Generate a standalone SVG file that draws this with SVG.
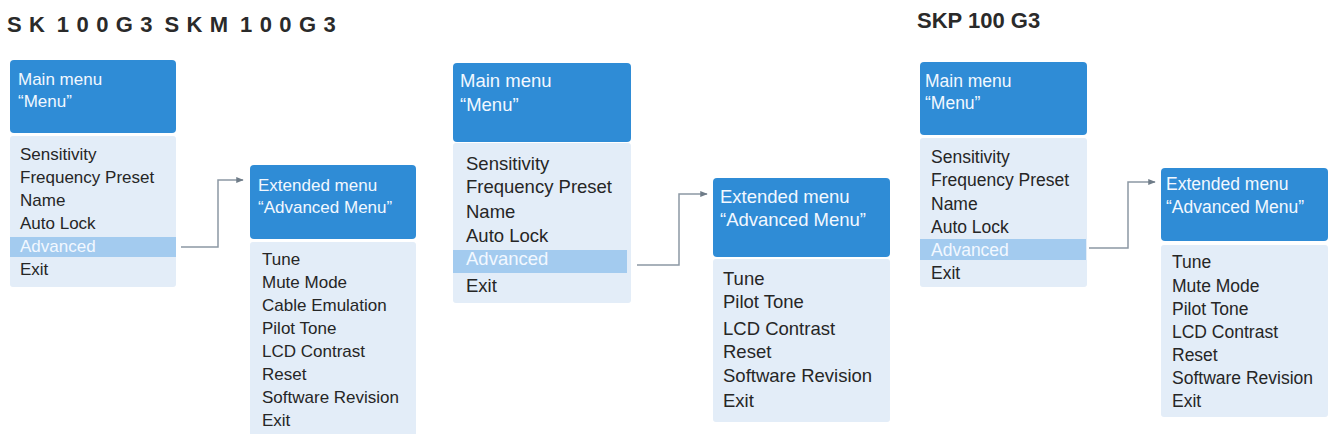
<svg xmlns="http://www.w3.org/2000/svg" width="1337" height="434" viewBox="0 0 1337 434">
<defs>
<style>
.hd{fill:#2f8cd6}
.ls{fill:#e3edf8}
.hl{fill:#a3cbef}
.t{font-family:"Liberation Sans",Arial,sans-serif;fill:#262626}
.w{font-family:"Liberation Sans",Arial,sans-serif;fill:#f2f8ff}
.title{font-family:"Liberation Sans",Arial,sans-serif;fill:#2a2a2a;font-size:22px;font-weight:bold}
.con{fill:none;stroke:#8c98a4;stroke-width:1.5}
</style>
<marker id="ah" viewBox="0 0 10 10" refX="9" refY="5" markerWidth="5" markerHeight="5" orient="auto">
<path d="M0,1 L10,5 L0,9 z" fill="#6f7c88"/>
</marker>
</defs>
<rect width="1337" height="434" fill="#ffffff"/>

<text class="title" x="7" y="32" letter-spacing="7.4" word-spacing="-9">SK 100G3 SKM 100G3</text>
<text class="title" x="917" y="28" font-size="23">SKP 100 G3</text>

<g id="connectors">
<path class="con" d="M181,247 H218 V180 H243" marker-end="url(#ah)"/>
<path class="con" d="M637,265 H679 V194 H707" marker-end="url(#ah)"/>
<path class="con" d="M1089,248 H1128 V182 H1155" marker-end="url(#ah)"/>
</g>

<g id="main1" font-size="17">
<rect class="hd" x="10" y="60" width="166" height="73" rx="4"/>
<text class="w" x="18" y="85">Main menu</text>
<text class="w" x="18" y="107">“Menu”</text>
<rect class="ls" x="10" y="136" width="166" height="151" rx="3"/>
<rect class="hl" x="10" y="237" width="166" height="20"/>
<text class="t" x="20" y="160">Sensitivity</text>
<text class="t" x="20" y="183">Frequency Preset</text>
<text class="t" x="20" y="206">Name</text>
<text class="t" x="20" y="229">Auto Lock</text>
<text class="w" x="20" y="252">Advanced</text>
<text class="t" x="20" y="275">Exit</text>
</g>

<g id="ext1" font-size="17">
<rect class="hd" x="250" y="165" width="166" height="74" rx="4"/>
<text class="w" x="258" y="191">Extended menu</text>
<text class="w" x="258" y="213">“Advanced Menu”</text>
<rect class="ls" x="250" y="242" width="166" height="200" rx="3"/>
<text class="t" x="262" y="265">Tune</text>
<text class="t" x="262" y="288">Mute Mode</text>
<text class="t" x="262" y="311">Cable Emulation</text>
<text class="t" x="262" y="334">Pilot Tone</text>
<text class="t" x="262" y="357">LCD Contrast</text>
<text class="t" x="262" y="380">Reset</text>
<text class="t" x="262" y="403">Software Revision</text>
<text class="t" x="262" y="426">Exit</text>
</g>

<g id="main2" font-size="18.5">
<rect class="hd" x="453" y="63" width="178" height="79" rx="4"/>
<text class="w" x="460" y="87">Main menu</text>
<text class="w" x="460" y="111">“Menu”</text>
<rect class="ls" x="453" y="143" width="178" height="160" rx="3"/>
<rect class="hl" x="453" y="250" width="174" height="23"/>
<text class="t" x="466" y="170">Sensitivity</text>
<text class="t" x="466" y="193">Frequency Preset</text>
<text class="t" x="466" y="218">Name</text>
<text class="t" x="466" y="242">Auto Lock</text>
<text class="w" x="466" y="265">Advanced</text>
<text class="t" x="466" y="292">Exit</text>
</g>

<g id="ext2" font-size="18.5">
<rect class="hd" x="713" y="178" width="177" height="79" rx="4"/>
<text class="w" x="720" y="203">Extended menu</text>
<text class="w" x="720" y="226">“Advanced Menu”</text>
<rect class="ls" x="713" y="259" width="177" height="163" rx="3"/>
<text class="t" x="723" y="285">Tune</text>
<text class="t" x="723" y="308">Pilot Tone</text>
<text class="t" x="723" y="335">LCD Contrast</text>
<text class="t" x="723" y="358">Reset</text>
<text class="t" x="723" y="382">Software Revision</text>
<text class="t" x="723" y="407">Exit</text>
</g>

<g id="main3" font-size="17.5">
<rect class="hd" x="920" y="62" width="167" height="73" rx="4"/>
<text class="w" x="925" y="87">Main menu</text>
<text class="w" x="925" y="109">“Menu”</text>
<rect class="ls" x="920" y="138" width="167" height="149" rx="3"/>
<rect class="hl" x="920" y="239" width="166" height="21"/>
<text class="t" x="931" y="163">Sensitivity</text>
<text class="t" x="931" y="186">Frequency Preset</text>
<text class="t" x="931" y="210">Name</text>
<text class="t" x="931" y="233">Auto Lock</text>
<text class="w" x="931" y="256">Advanced</text>
<text class="t" x="931" y="279">Exit</text>
</g>

<g id="ext3" font-size="17.5">
<rect class="hd" x="1161" y="168" width="167" height="73" rx="4"/>
<text class="w" x="1166" y="190">Extended menu</text>
<text class="w" x="1166" y="213">“Advanced Menu”</text>
<rect class="ls" x="1161" y="245" width="167" height="172" rx="3"/>
<text class="t" x="1172" y="268">Tune</text>
<text class="t" x="1172" y="292">Mute Mode</text>
<text class="t" x="1172" y="315">Pilot Tone</text>
<text class="t" x="1172" y="338">LCD Contrast</text>
<text class="t" x="1172" y="361">Reset</text>
<text class="t" x="1172" y="384">Software Revision</text>
<text class="t" x="1172" y="407">Exit</text>
</g>
</svg>
